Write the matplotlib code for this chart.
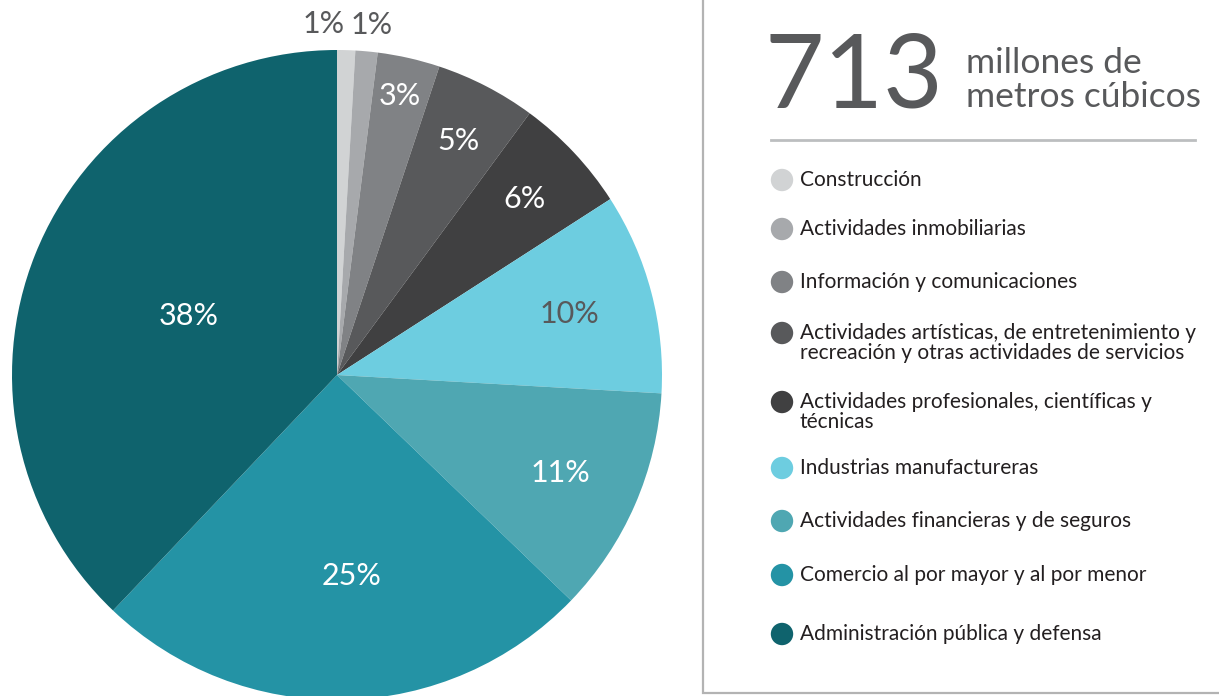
import numpy as np
import matplotlib
matplotlib.use("Agg")
import matplotlib.pyplot as plt

# sectores (de arriba, en sentido horario)
sectores = [
    "Construcción",
    "Actividades inmobiliarias",
    "Información y comunicaciones",
    "Actividades artísticas, de entretenimiento y\nrecreación y otras actividades de servicios",
    "Actividades profesionales, científicas y\ntécnicas",
    "Industrias manufactureras",
    "Actividades financieras y de seguros",
    "Comercio al por mayor y al por menor",
    "Administración pública y defensa",
]
porcentajes = [0.9, 1.1, 3.1, 5.0, 5.8, 10.0, 11.3, 24.9, 37.9]
colores = ["#d1d3d4", "#a7a9ac", "#808285", "#58595b", "#404041",
           "#6dcde0", "#4fa7b2", "#2493a5", "#0f636d"]
color_etiqueta = ["#58595b", "#58595b", "white", "white", "white",
                  "#58595b", "white", "white", "white"]
dist_etiqueta = [1.08, 1.08, 0.88, 0.81, 0.79, 0.74, 0.75, 0.62, 0.49]

total_texto = "713"
unidad_texto = "millones de\nmetros cúbicos"

W, H = 1219, 696
plt.rcParams['font.family'] = ['Lato', 'DejaVu Sans']
fig = plt.figure(figsize=(W / 100, H / 100), dpi=100)
ax = fig.add_axes([0, 0, 1, 1])

cx, cy, R = 337, H - 375, 325
wedges, _ = ax.pie(porcentajes, colors=colores, startangle=90, counterclock=False,
                   center=(cx, cy), radius=R, wedgeprops=dict(linewidth=0))

for i, (w, p) in enumerate(zip(wedges, porcentajes)):
    ang = np.deg2rad((w.theta1 + w.theta2) / 2)
    d = dist_etiqueta[i] * R
    x, y = cx + d * np.cos(ang), cy + d * np.sin(ang)
    ha = "center"
    if i == 0:
        x, ha = cx + 8, "right"
    elif i == 1:
        x, ha = cx + 14, "left"
    elif i == 7:
        x += 10
    ax.text(x, y, f"{round(p)}%", color=color_etiqueta[i], fontsize=22,
            ha=ha, va="center")

ax.set_xlim(0, W)
ax.set_ylim(0, H)
ax.set_aspect("equal")
ax.axis("off")

# recuadro
ax.plot([703, 703, W], [H, H - 693, H - 693], color="#b3b3b3", lw=1.6,
        solid_joinstyle="miter", clip_on=False)

# total
ax.text(764, H - 79, total_texto, fontsize=74, color="#58595b",
        ha="left", va="center")
ax.text(966, H - 80, unidad_texto, fontsize=25.5, color="#58595b",
        ha="left", va="center", linespacing=1.08)
ax.plot([771, 1195], [H - 140, H - 140], color="#bcbec0", lw=2)

# leyenda
ley_y = [180, 229, 282, 333, 402, 468, 521, 575, 634]
for nombre, col, yy in zip(sectores, colores, ley_y):
    ax.scatter(782, H - yy, s=260, color=col, edgecolors="none")
    ax.text(800, H - yy + 10, nombre, fontsize=15, color="#231f20",
            ha="left", va="top", linespacing=1.02)

fig.savefig("out.png", dpi=100)
